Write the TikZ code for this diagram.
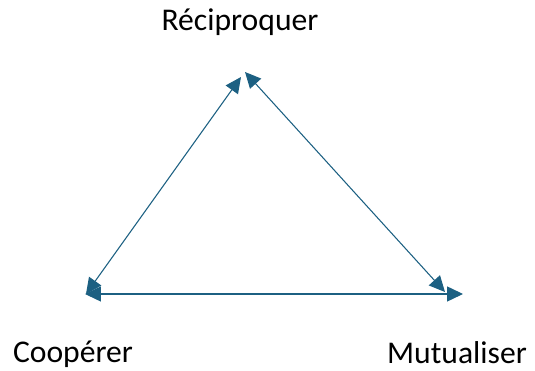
\documentclass[tikz,border=0pt]{standalone}
\usepackage{fontspec}
\setmainfont{Carlito}
\usetikzlibrary{arrows.meta}
\definecolor{lienbleu}{RGB}{28,96,130}

\begin{document}
\begin{tikzpicture}[x=0.02cm,y=-0.02cm,
	lien/.style={{Triangle[length=9pt,width=8.5pt]}-{Triangle[length=9pt,width=8.5pt]},color=lienbleu,line width=0.6pt},
	pole/.style={font=\fontsize{18}{22}\selectfont,inner sep=0pt}]
	\useasboundingbox (0,0) rectangle (535,371);
	\node[pole] (rec) at (240,22) {Réciproquer};
	\node[pole] (coop) at (73,354) {Coopérer};
	\node[pole] (mut) at (457,353) {Mutualiser};
	% extremites des fleches
	\coordinate (g1) at (86,294);
	\coordinate (h1) at (241,77);
	\coordinate (h2) at (245,72);
	\coordinate (d1) at (445,292);
	\coordinate (g2) at (85,294);
	\coordinate (d2) at (463,294);
	\draw[lien] (g1) -- (h1);
	\draw[lien] (h2) -- (d1);
	\draw[lien] (g2) -- (d2);
\end{tikzpicture}
\end{document}
